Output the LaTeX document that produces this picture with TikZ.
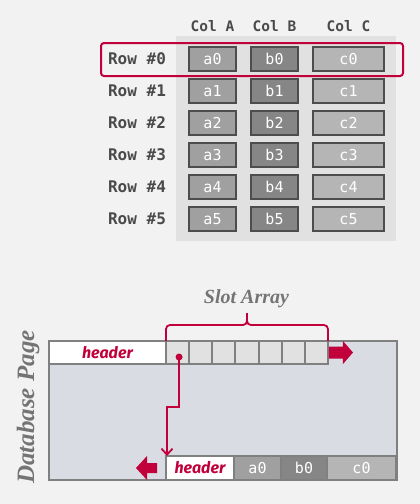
\documentclass[tikz,border=0pt]{standalone}
\usepackage{fontspec}
\setmainfont{Liberation Serif}
\newfontfamily\monofont{DejaVu Sans Mono}
\newfontfamily\hdrfont{Fira Sans}
\usetikzlibrary{arrows.meta,positioning,calc}

\definecolor{bgcol}{HTML}{F2F2F2}
\definecolor{tblbg}{HTML}{E1E1E1}
\definecolor{cellA}{HTML}{A0A0A0}
\definecolor{cellB}{HTML}{868686}
\definecolor{cellC}{HTML}{B5B5B5}
\definecolor{cellline}{HTML}{4D4D4D}
\definecolor{crimson}{HTML}{C1003B}
\definecolor{pagecol}{HTML}{D9DCE3}
\definecolor{pageline}{HTML}{808080}
\definecolor{txtgray}{HTML}{4A4A4A}
\definecolor{lblgray}{HTML}{747474}

\begin{document}
\begin{tikzpicture}[x=1pt, y=-1pt, >={Straight Barb[length=6pt,width=11pt]},
  cell/.style={draw=cellline, line width=1.2pt, minimum height=24pt, inner sep=0pt,
    outer sep=0pt, text=white, font=\monofont\fontsize{15}{15}\selectfont},
  rowlbl/.style={text=txtgray, font=\monofont\bfseries\fontsize{16}{16}\selectfont},
  colhead/.style={text=txtgray, font=\monofont\bfseries\fontsize{14.5}{14.5}\selectfont},
  slotbox/.style={draw=pageline, line width=2pt, minimum height=23pt, inner sep=0pt, outer sep=0pt},
  tupbox/.style={draw=pageline, line width=2pt, minimum height=24pt, inner sep=0pt,
    outer sep=0pt, text=white, font=\monofont\fontsize{15}{15}\selectfont},
  hdrtxt/.style={text=crimson, font=\hdrfont\bfseries\itshape\fontsize{16}{16}\selectfont},
  redline/.style={crimson, line width=1.8pt}]
  \fill [bgcol] (0,0) rectangle (420,504);
  % table of rows
  \fill [tblbg] (176,36) rectangle (396,241);
  \node [colhead] (hA) at (212.5,26) {Col A};
  \node [colhead] (hB) at (274.5,26) {Col B};
  \node [colhead] (hC) at (348.5,26) {Col C};
  \foreach \r in {0,...,5} {
    \node [rowlbl] (row\r) at (137,{59+32*\r}) {Row \#\r};
    \node [cell, fill=cellA, minimum width=47pt] (a\r) at (212.5,{59+32*\r}) {a\r};
    \node [cell, fill=cellB, minimum width=47pt] (b\r) at (274.5,{59+32*\r}) {b\r};
    \node [cell, fill=cellC, minimum width=71pt] (c\r) at (348.5,{59+32*\r}) {c\r};
  }
  \draw [crimson, line width=2pt, rounded corners=3pt] (101,43) rectangle (403,76);

  % database page
  \draw [pageline, line width=2.5pt, fill=pagecol] (49,341) rectangle (397,480);
  \node [slotbox, hdrtxt, fill=white, minimum width=117pt, anchor=north west] (hdr) at (49,341) {header};
  \foreach \i in {1,...,7}
    \node [slotbox, fill=tblbg, minimum width=23.14pt, anchor=north west] (s\i) at ({166+23.14*(\i-1)},341) {};
  \fill [crimson] ($(s7.east)+(1,-6)$) -- ++(14,0) -- ++(0,-5.5) -- ++(10,11.5)
    -- ++(-10,11.5) -- ++(0,-5.5) -- ++(-14,0) -- cycle;

  % slot array brace
  \coordinate (brmid) at ($(s1.north west)!0.5!(s7.north east)+(0,-16)$);
  \draw [redline, rounded corners=4pt] (s1.north west) -- ++(0,-16) -- (brmid) -- ++(0,-12);
  \draw [redline, rounded corners=4pt] (s7.north east) -- ++(0,-16) -- (brmid) -- ++(0,-12);
  \node [text=lblgray, font=\bfseries\itshape\fontsize{20}{20}\selectfont] (slotlbl) at (246.5,299) {Slot Array};
  \node [rotate=90, text=lblgray, font=\bfseries\itshape\fontsize{25}{25}\selectfont] (pglbl) at (28,407) {Database Page};

  % tuple at the end of the page
  \node [tupbox, hdrtxt, fill=white, minimum width=68pt, anchor=south west] (th) at (166,480) {header};
  \node [tupbox, fill=cellA, minimum width=47pt, right=0pt of th] (ta) {a0};
  \node [tupbox, fill=cellB, minimum width=46pt, right=0pt of ta] (tb) {b0};
  \node [tupbox, fill=cellC, minimum width=69pt, right=0pt of tb] (tc) {c0};
  \fill [crimson] ($(th.west)+(-9,-5)$) -- ++(-10,0) -- ++(0,-7) -- ++(-11,12)
    -- ++(11,12) -- ++(0,-7) -- ++(10,0) -- cycle;

  % slot pointer
  \coordinate (ptr) at ($(s1.center)+(1.5,4.5)$);
  \fill [crimson] (ptr) circle (3.5pt);
  \draw [redline, ->] (ptr) -- ++(0,50) -| ($(th.north west)+(1,0)$);
\end{tikzpicture}
\end{document}
